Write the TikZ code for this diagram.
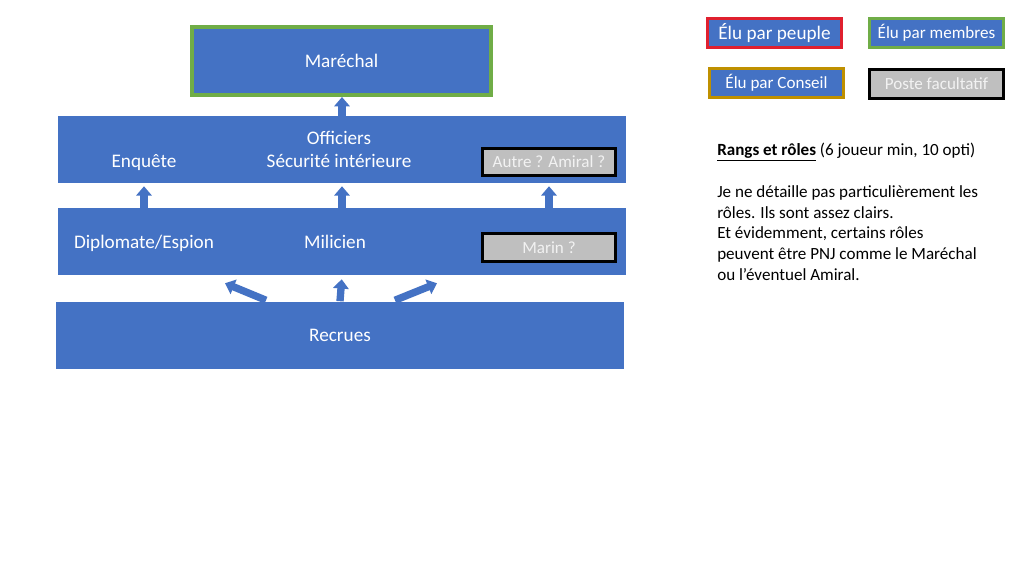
\documentclass[tikz,border=0pt]{standalone}
\usepackage{fontspec}
\setmainfont{Carlito}
\usetikzlibrary{arrows.meta,calc}

\definecolor{rangblue}{HTML}{4472C4}
\definecolor{electgreen}{HTML}{70AD47}
\definecolor{electred}{HTML}{E0202F}
\definecolor{electgold}{HTML}{BF9000}
\definecolor{optgray}{HTML}{BFBFBF}
\definecolor{optlight}{HTML}{F2F2F2}

\begin{document}
\begin{tikzpicture}[
  x = 0.75pt, y = -0.75pt,
  every node/.style = {text = white, font = \fontsize{14.4}{17.3}\selectfont},
  rank/.style = {fill = rangblue, minimum width = 426pt, minimum height = 50.25pt, inner sep = 0pt},
  elected/.style = {fill = rangblue, draw = #1, line width = 2.25pt, minimum width = 100.5pt,
                    minimum height = 21.75pt, inner sep = 0pt, font = \fontsize{12.8}{15.4}\selectfont},
  optional/.style = {elected = black, fill = optgray, text = optlight, minimum width = 99.75pt, minimum height = 21pt},
  up/.style = {draw = rangblue, line width = 5.5pt, -{Triangle[width = 11.5pt, length = 7pt]}},
  ]
  \useasboundingbox (0,0) rectangle (1024,576);
  \fill[white] (0,0) rectangle (1024,576);

  % ranks
  \node[elected = electgreen, line width = 3pt, minimum width = 224.25pt, minimum height = 51pt,
        font = \fontsize{14.4}{17.3}\selectfont] (marechal) at (341.5,61) {Maréchal};
  \node[rank] (officiers) at (342,149.5) {};
  \node[align = center] (securite) at (339,149.5) {Officiers\\Sécurité intérieure};
  \node (enquete) at (144,163) {Enquête};
  \node[optional, minimum height = 20.25pt] (autre) at (549,162) {Autre ? Amiral ?};
  \node[rank] (diplomate) at (342,241.5) {};
  \node (espion) at (144,243) {Diplomate/Espion};
  \node (milicien) at (335,241.5) {Milicien};
  \node[optional, minimum height = 21.4pt] (marin) at (549,247.5) {Marin ?};
  \node[rank] (recrues) at (340,335) {Recrues};

  % promotions
  \draw[up] (officiers.north) -- (officiers.north |- marechal.south);
  \draw[up, shorten > = 2.25pt] (diplomate.north -| enquete) -- (officiers.south -| enquete);
  \draw[up, shorten > = 2.25pt] (diplomate.north) -- (officiers.south);
  \draw[up, shorten > = 2.25pt] (diplomate.north -| autre) -- (officiers.south -| autre);
  \draw[up, shorten > = 3pt] (recrues.north) -- (diplomate.south);
  \draw[up] ($(recrues.north)+(-74,-1)$) -- ($(diplomate.south)+(-117,8)$);
  \draw[up] ($(recrues.north)+(55,-1)$) -- ($(diplomate.south)+(95,8)$);

  % legend
  \node[elected = electred, font = \fontsize{14.4}{17.3}\selectfont] (peuple) at (774.5,33) {Élu par peuple};
  \node[elected = electgreen] (membres) at (936.5,33) {Élu par membres};
  \node[elected = electgold] (conseil) at (776.5,83) {Élu par Conseil};
  \node[optional, minimum width = 100.5pt, minimum height = 21.75pt] (facultatif) at (936.5,84) {Poste facultatif};

  \node[text = black, anchor = north west, align = left, inner sep = 0pt,
        font = \fontsize{12.8}{15.6}\selectfont] (notes) at (717,143)
    {\underline{\textbf{Rangs et rôles}} (6 joueur min, 10 opti)\\[15.6pt]
     Je ne détaille pas particulièrement les\\
     rôles. Ils sont assez clairs.\\
     Et évidemment, certains rôles\\
     peuvent être PNJ comme le Maréchal\\
     ou l’éventuel Amiral.};
\end{tikzpicture}
\end{document}
